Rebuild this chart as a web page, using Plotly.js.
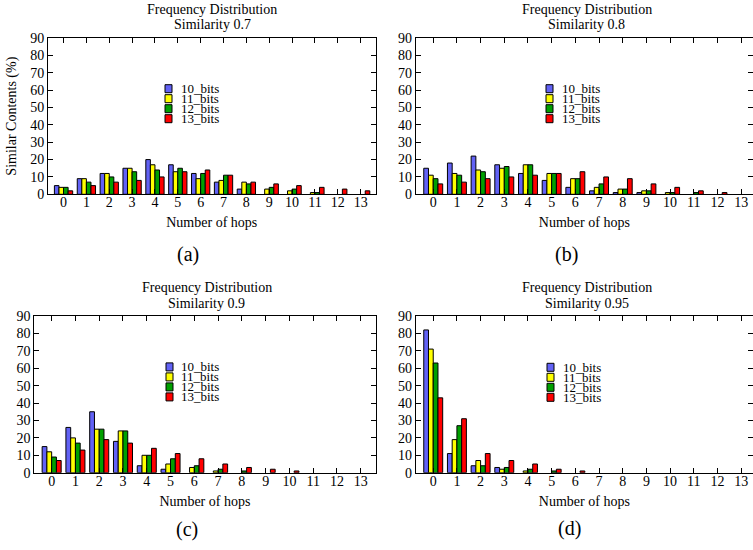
<!DOCTYPE html>
<html>
<head>
<meta charset="utf-8">
<script src="https://cdn.plot.ly/plotly-3.0.1.min.js"></script>
<style>
html,body{margin:0;padding:0;background:#fff;}
#chart{width:753px;height:550px;}
</style>
</head>
<body>
<div id="chart"></div>
<script>
// ---------- data ----------
const hops = [0,1,2,3,4,5,6,7,8,9,10,11,12,13];
const tickLabels = ['0','1','2','3','4','5','6','7','8','9','10','11','12','13'];
const seriesNames = ['10_bits','11_bits','12_bits','13_bits'];
const seriesColors = ['rgb(98,98,245)','rgb(255,255,0)','rgb(0,160,0)','rgb(255,0,0)'];
const yTicks = [0,10,20,30,40,50,60,70,80,90];
const panelTitles = ['Similarity 0.7','Similarity 0.8','Similarity 0.9','Similarity 0.95'];
const panelLabels = ['(a)','(b)','(c)','(d)'];

// Similarity 0.7
const sim07_10bits = [5,9,12,15,20,17,12,7,3,0,0,0,0,0];
const sim07_11bits = [4,9,12,15,17,13,9,8,7,3,2,1,0,0];
const sim07_12bits = [4,7,10,13,14,15,12,11,6,4,3,1,0,0];
const sim07_13bits = [2,5,7,8,10,13,14,11,7,6,5,4,3,2];
// Similarity 0.8
const sim08_10bits = [15,18,22,17,12,8,4,2,1,1,0,0,0,0];
const sim08_11bits = [11,12,14,15,17,12,9,4,3,2,1,0,0,0];
const sim08_12bits = [9,11,13,16,17,12,9,6,3,2,1,1,0,0];
const sim08_13bits = [6,7,9,10,11,12,13,10,9,6,4,2,1,0];
// Similarity 0.9
const sim09_10bits = [15,26,35,18,4,2,0,0,0,0,0,0,0,0];
const sim09_11bits = [12,20,25,24,10,5,3,1,0,0,0,0,0,0];
const sim09_12bits = [9,17,25,24,10,8,4,2,1,0,0,0,0,0];
const sim09_13bits = [7,13,19,17,14,11,8,5,3,2,1,0,0,0];
// Similarity 0.95
const sim095_10bits = [82,11,4,3,0,0,0,0,0,0,0,0,0,0];
const sim095_11bits = [71,19,7,2,1,0,0,0,0,0,0,0,0,0];
const sim095_12bits = [63,27,4,3,2,1,0,0,0,0,0,0,0,0];
const sim095_13bits = [43,31,11,7,5,2,1,0,0,0,0,0,0,0];

const panelSeries = [
  [sim07_10bits, sim07_11bits, sim07_12bits, sim07_13bits],
  [sim08_10bits, sim08_11bits, sim08_12bits, sim08_13bits],
  [sim09_10bits, sim09_11bits, sim09_12bits, sim09_13bits],
  [sim095_10bits, sim095_11bits, sim095_12bits, sim095_13bits]
];

// ---------- layout geometry (pixels) ----------
const W = 753, H = 550;
const fx = p => p / W;
const fy = p => 1 - p / H;
const FONT = "'Liberation Serif', 'Times New Roman', serif";

const panels = [
  {x0:48,    x1:375.5, y0:38,  y1:194.3, range:[-0.68,13.65], title:[212,9.3,25],    lab:[188,254],   leg:{sx:165, tx:180, y:88.7}},
  {x0:415.7, x1:753,   y0:38,  y1:194.3, range:[-0.74,13.5],  title:[586.7,9.3,25],  lab:[566,254],   leg:{sx:546, tx:561, y:88.7}},
  {x0:34.3,  x1:375.5, y0:316, y1:472.7, range:[-0.73,13.62], title:[206.7,287.3,303.3], lab:[187,529], leg:{sx:166, tx:180, y:366.9}},
  {x0:415.7, x1:753,   y0:316, y1:472.7, range:[-0.74,13.5],  title:[587,287.3,303.3],   lab:[569.3,528], leg:{sx:547, tx:561.7, y:367.3}}
];

const data = [];
const layout = {
  width: W, height: H,
  margin: {l:0, r:0, t:0, b:0},
  paper_bgcolor: '#fff', plot_bgcolor: '#fff',
  showlegend: false,
  barmode: 'group', bargap: 0.2, bargroupgap: 0,
  font: {family: FONT, size: 13, color: '#000'},
  annotations: [], shapes: []
};

panels.forEach((p, i) => {
  const n = i === 0 ? '' : String(i + 1);
  const xa = 'x' + n, ya = 'y' + n;
  panelSeries[i].forEach((vals, s) => {
    data.push({
      type: 'bar', x: hops, y: vals, name: seriesNames[s],
      xaxis: xa, yaxis: ya,
      marker: {color: seriesColors[s], line: {color: '#000', width: vals.map(v => v > 0 ? 1 : 0)}},
      hoverinfo: 'skip'
    });
  });
  const common = {
    showline: true, mirror: 'ticks', linecolor: '#000', linewidth: 1,
    ticks: 'inside', ticklen: 5, tickcolor: '#000', tickwidth: 1,
    showgrid: false, zeroline: false, fixedrange: true,
    tickfont: {family: FONT, size: 14, color: '#000'}
  };
  layout['xaxis' + n] = Object.assign({}, common, {
    domain: [fx(p.x0), fx(p.x1)], anchor: ya, range: p.range,
    tickmode: 'array', tickvals: hops, ticktext: tickLabels,
    ticklabelstandoff: -5,
    title: {text: 'Number of hops', font: {family: FONT, size: 14, color: '#000'}, standoff: 8}
  });
  layout['yaxis' + n] = Object.assign({}, common, {
    domain: [fy(p.y1), fy(p.y0)], anchor: xa, range: [0, 90],
    tickmode: 'array', tickvals: yTicks,
    title: i === 0 ? {text: 'Similar Contents (%)', font: {family: FONT, size: 14, color: '#000'}, standoff: 10} : {text: ''}
  });
  // panel titles
  layout.annotations.push({xref:'paper', yref:'paper', x:fx(p.title[0]), y:fy(p.title[1]), xanchor:'center', yanchor:'middle',
    text:'Frequency Distribution', showarrow:false, font:{family:FONT, size:14, color:'#000'}});
  layout.annotations.push({xref:'paper', yref:'paper', x:fx(p.title[0]), y:fy(p.title[2]), xanchor:'center', yanchor:'middle',
    text:panelTitles[i], showarrow:false, font:{family:FONT, size:14, color:'#000'}});
  // sub-figure label
  layout.annotations.push({xref:'paper', yref:'paper', x:fx(p.lab[0]), y:fy(p.lab[1]), xanchor:'center', yanchor:'middle',
    text:panelLabels[i], showarrow:false, font:{family:FONT, size:20, color:'#000'}});
  // compact legend (tight 10px rows, as in the reference)
  seriesNames.forEach((nm, s) => {
    const cy = p.leg.y + s * 10;
    layout.shapes.push({type:'rect', xref:'paper', yref:'paper',
      x0:fx(p.leg.sx), x1:fx(p.leg.sx + 7), y0:fy(cy + 4), y1:fy(cy - 4),
      fillcolor:seriesColors[s], line:{color:'#000', width:1}});
    layout.annotations.push({xref:'paper', yref:'paper', x:fx(p.leg.tx), y:fy(cy), xanchor:'left', yanchor:'middle',
      text:nm, showarrow:false, font:{family:FONT, size:13, color:'#000'}, borderpad:0});
  });
});

Plotly.newPlot('chart', data, layout, {displayModeBar:false, staticPlot:true});
</script>
</body>
</html>
